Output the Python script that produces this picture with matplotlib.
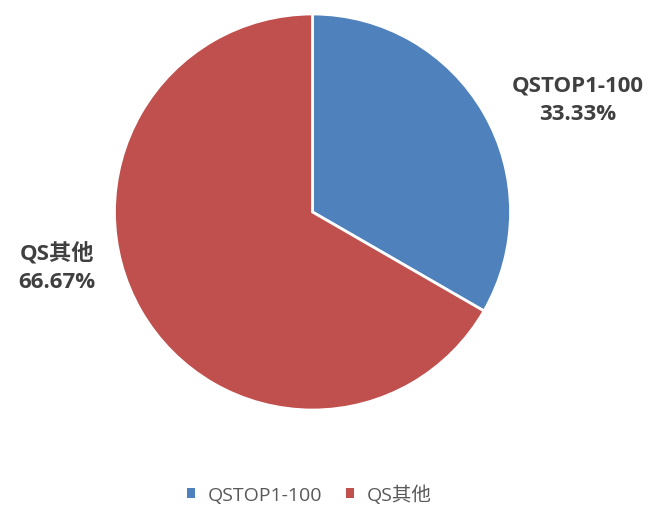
import matplotlib
matplotlib.use("Agg")
import matplotlib.pyplot as plt
from matplotlib.patches import Patch

plt.rcParams['font.family'] = ['Open Sans', 'Noto Sans CJK SC', 'DejaVu Sans']

categories = ['QSTOP1-100', 'QS其他']
values = [33.33, 66.67]
colors = ['#4F81BD', '#C0504D']

fig = plt.figure(figsize=(6.53, 5.06), dpi=100)
W, H = 653, 506
cx, cy, r = 312.5, 213, 200
ax = fig.add_axes([(cx - r) / W, (H - cy - r) / H, 2 * r / W, 2 * r / H])
wedges, _ = ax.pie(values, colors=colors, startangle=90, counterclock=False,
                   wedgeprops=dict(edgecolor='white', linewidth=2), radius=1)
ax.set_xlim(-1.01, 1.01)
ax.set_ylim(-1.01, 1.01)
ax.set_aspect('equal')
ax.axis('off')

label_pos = [((580 - cx) / r, (cy - 99) / r), ((54 - cx) / r, (cy - 268) / r)]
for cat, val, (x, y) in zip(categories, values, label_pos):
    ax.text(x, y, f"{cat}\n{val:.2f}%", ha='center', va='center',
            fontsize=16, fontweight='bold', color='#404040', linespacing=1.45)

handles = [Patch(facecolor=c, edgecolor='none') for c in colors]
fig.legend(handles, categories, loc='center left', bbox_to_anchor=(187 / W, 1 - 495 / H),
           ncol=2, frameon=False, fontsize=14, handlelength=0.42, handleheight=0.42,
           handletextpad=0.65, columnspacing=1.2, borderpad=0, borderaxespad=0,
           labelcolor='#595959')

fig.savefig('out.png', dpi=100)
